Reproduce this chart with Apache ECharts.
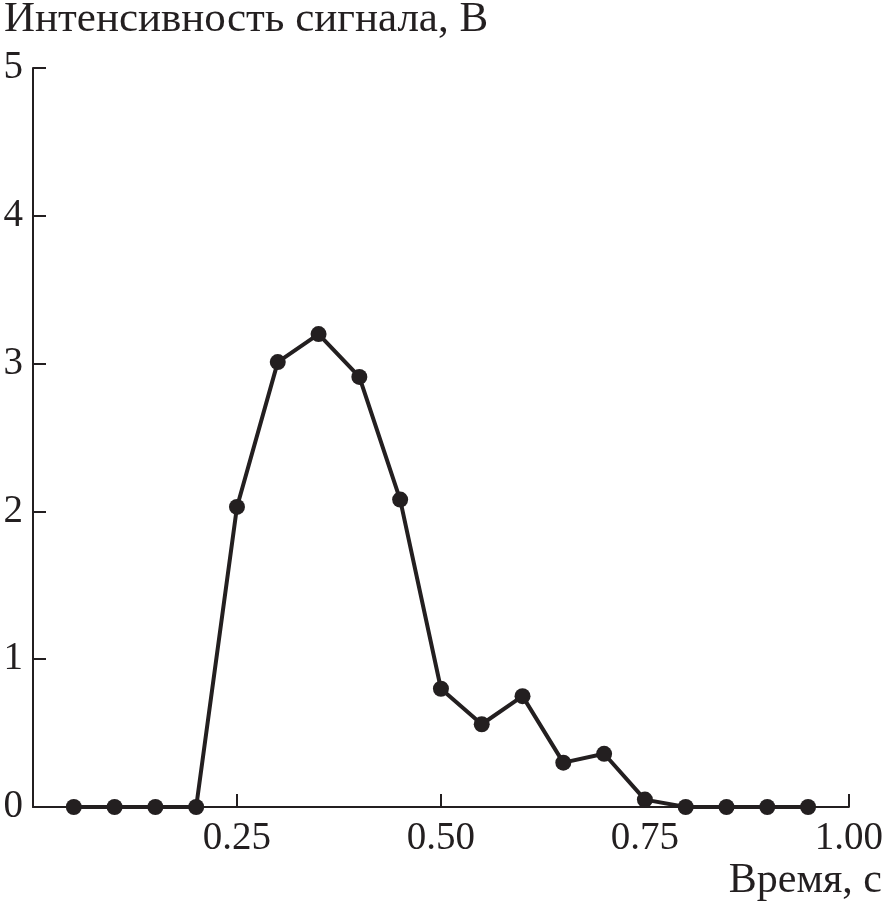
<!DOCTYPE html>
<html><head><meta charset="utf-8">
<script src="https://cdn.jsdelivr.net/npm/echarts@6/dist/echarts.min.js"></script>
<style>html,body{margin:0;padding:0;background:#fff}#c{width:886px;height:908px}</style>
</head><body><div id="c"></div>
<script>
const times = [0.05,0.10,0.15,0.20,0.25,0.30,0.35,0.40,0.45,0.50,0.55,0.60,0.65,0.70,0.75,0.80,0.85,0.90,0.95];
const signal = [0,0,0,0,2.03,3.01,3.20,2.91,2.08,0.80,0.56,0.75,0.30,0.36,0.05,0,0,0,0];
const yTitle = 'Интенсивность сигнала, В';
const xTitle = 'Время, с';
const ink = '#231f20';
const font = 'Liberation Serif';
const chart = echarts.init(document.getElementById('c'));
chart.setOption({
  animation:false,
  backgroundColor:'#fff',
  grid:{left:33,top:68,right:36,bottom:101,containLabel:false},
  graphic:[
    {type:'text',left:4,top:-2,style:{text:yTitle,font:'43px "Liberation Serif"',fill:ink}},
    {type:'text',right:4,top:860,style:{text:xTitle,font:'42px "Liberation Serif"',fill:ink}}
  ],
  xAxis:{type:'value',min:0,max:1,interval:0.25,
    axisLine:{lineStyle:{color:ink,width:2}},
    axisTick:{inside:true,length:13,lineStyle:{color:ink,width:2}},
    splitLine:{show:false},
    axisLabel:{color:ink,fontFamily:font,fontSize:39,margin:12,
      formatter:v=>v===0?'':v.toFixed(2)}},
  yAxis:{type:'value',min:0,max:5,interval:1,
    axisLine:{show:true,lineStyle:{color:ink,width:2}},
    axisTick:{show:true,inside:true,length:13,lineStyle:{color:ink,width:2}},
    splitLine:{show:false},
    axisLabel:{color:ink,fontFamily:font,fontSize:39,margin:10}},
  series:[{type:'line',data:times.map((t,i)=>[t,signal[i]]),
    lineStyle:{color:ink,width:4},itemStyle:{color:ink},
    symbol:'circle',symbolSize:16,showSymbol:true}]
});
</script></body></html>
